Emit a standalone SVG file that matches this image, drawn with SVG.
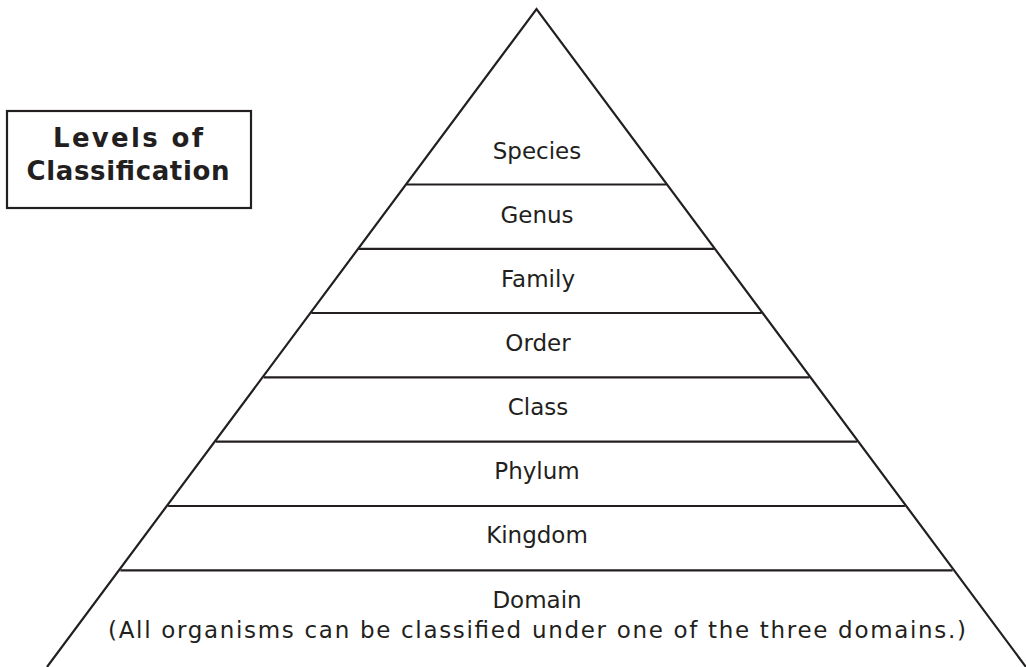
<svg xmlns="http://www.w3.org/2000/svg" width="1026" height="667" viewBox="0 0 1026 667">
<style>
.ln{stroke:#231f20;stroke-width:2.2;fill:none;stroke-linecap:butt}
.lbl{font-family:"DejaVu Sans",sans-serif;font-size:23px;fill:#231f20;text-anchor:middle}
.ttl{font-family:"DejaVu Sans",sans-serif;font-size:26px;font-weight:bold;fill:#231f20;text-anchor:middle}
</style>
<rect width="1026" height="667" fill="#ffffff"/>
<g id="pyramid">
<polyline class="ln" points="47,667 536.5,9 1026,667"/>
</g>
<g id="connectors">
<line class="ln" x1="406.7" y1="184.5" x2="666.3" y2="184.5"/>
<line class="ln" x1="359" y1="248.8" x2="714" y2="248.8"/>
<line class="ln" x1="311.3" y1="313" x2="761.7" y2="313"/>
<line class="ln" x1="263.6" y1="377.3" x2="809.4" y2="377.3"/>
<line class="ln" x1="215.8" y1="441.7" x2="857.2" y2="441.7"/>
<line class="ln" x1="168.1" y1="506" x2="904.9" y2="506"/>
<line class="ln" x1="120.4" y1="570.3" x2="952.6" y2="570.3"/>
</g>
<g id="title">
<rect x="7" y="111" width="244" height="97" fill="#ffffff" stroke="#231f20" stroke-width="2.2"/>
<text class="ttl" x="128" y="147" textLength="150">Levels  of</text>
<text class="ttl" x="128" y="180" textLength="203">Classification</text>
</g>
<g id="species"><text class="lbl" x="537" y="159">Species</text></g>
<g id="genus"><text class="lbl" x="537" y="223">Genus</text></g>
<g id="family"><text class="lbl" x="538" y="287">Family</text></g>
<g id="order"><text class="lbl" x="538" y="351">Order</text></g>
<g id="class"><text class="lbl" x="538" y="415">Class</text></g>
<g id="phylum"><text class="lbl" x="537" y="479">Phylum</text></g>
<g id="kingdom"><text class="lbl" x="537" y="543">Kingdom</text></g>
<g id="domain">
<text class="lbl" x="537" y="608">Domain</text>
<text class="lbl" x="537" y="638" textLength="858">(All organisms can be classified under one of the three domains.)</text>
</g>
</svg>
